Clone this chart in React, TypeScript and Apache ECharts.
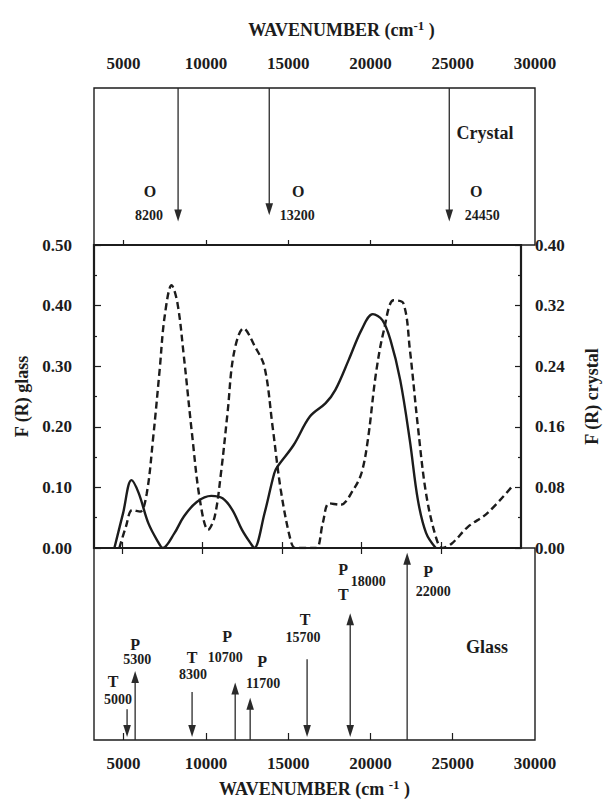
import React, { useEffect, useRef } from "react";
import * as echarts from "echarts";

const FONT = "'Liberation Serif', 'Times New Roman', Times, serif";
const INK = "#1c1c1c";

// Wavenumber axis (cm-1)
const xTickValues = [5000, 10000, 15000, 20000, 25000];
const xLabelValues = [5000, 10000, 15000, 20000, 25000, 30000];

// F(R) glass (solid, left axis)
const glassX = [4480, 5030, 5550, 6000, 6610, 7220, 7520, 8240, 8840, 9650, 10560, 11270, 11880, 12490, 13100, 13260, 13900, 14510, 14710, 15730, 16750, 17740, 18350, 19180, 19990, 20700, 21300, 21810, 22420, 23020, 23530, 24040, 24650];
const glassY = [0, 0.058, 0.112, 0.091, 0.041, 0.01, 0, 0.024, 0.052, 0.076, 0.086, 0.082, 0.063, 0.03, 0.005, 0, 0.057, 0.123, 0.134, 0.17, 0.217, 0.239, 0.261, 0.31, 0.36, 0.386, 0.376, 0.343, 0.277, 0.178, 0.079, 0.025, 0];

// F(R) crystal (dashed, right axis)
const crystalX = [4790, 5200, 5600, 6100, 6510, 6920, 7320, 7630, 8070, 8440, 8840, 9350, 9850, 10360, 10770, 11170, 11580, 11980, 12590, 13300, 13900, 14410, 14920, 15530, 15830, 16500, 17150, 17560, 17960, 18670, 19480, 19990, 20390, 20900, 21400, 22010, 22620, 23030, 23530, 24040, 24650, 25050, 25660, 26670, 27890, 29510];
const crystalY = [0, 0.028, 0.05, 0.048, 0.072, 0.147, 0.235, 0.305, 0.347, 0.323, 0.253, 0.151, 0.063, 0.024, 0.041, 0.099, 0.178, 0.257, 0.29, 0.266, 0.239, 0.16, 0.077, 0.011, 0, 0, 0, 0.033, 0.059, 0.057, 0.077, 0.099, 0.143, 0.231, 0.288, 0.327, 0.323, 0.261, 0.16, 0.072, 0.015, 0, 0.006, 0.028, 0.046, 0.083];

// Crystal bands (top panel): arrow positions as drawn, label text, symbol
const crystalBandPos = [8310, 13850, 24790];
const crystalBandText = ["8200", "13200", "24450"];
const crystalBandSym = ["O", "O", "O"];
const crystalBandTip = [0.15, 0.19, 0.15];

// Glass bands (bottom panel)
const glassBandPos = [5210, 5700, 9160, 11780, 12690, 16150, 18770, 22230];
const glassBandText = ["5000", "5300", "8300", "10700", "11700", "15700", "18000", "22000"];
const glassBandSym = [["T"], ["P"], ["T"], ["P"], ["P"], ["T"], ["P", "T"], ["P"]];
const glassBandDir = ["down", "up", "down", "up", "up", "down", "both", "up"];
const glassBandLen = [0.16, 0.36, 0.25, 0.3, 0.22, 0.42, 0.66, 0.975];

// label layout (px offset from arrow, y as panel fraction)
const crystalLabelLayout = [
  { sdx: -28, sfy: 0.338, ndx: -29, nfy: 0.191 },
  { sdx: 29, sfy: 0.338, ndx: 28, nfy: 0.191 },
  { sdx: 27, sfy: 0.338, ndx: 33, nfy: 0.191 },
];
const glassLabelLayout = [
  { s: [[-14, 0.306]], n: [-9, 0.212] },
  { s: [[0, 0.497]], n: [2, 0.42] },
  { s: [[0, 0.43]], n: [1, 0.342] },
  { s: [[-8, 0.539]], n: [-10, 0.43] },
  { s: [[12, 0.409]], n: [13, 0.295] },
  { s: [[-2, 0.627]], n: [-4, 0.534] },
  { s: [[-7, 0.886], [-7, 0.756]], n: [18, 0.824] },
  { s: [[21, 0.876]], n: [26, 0.772] },
];

const txt = (x: number, y: number, text: string, size: number) => ({
  type: "text",
  x,
  y,
  style: {
    text,
    fill: INK,
    font: `bold ${size}px ${FONT}`,
    align: "center",
    verticalAlign: "middle",
    textAlign: "center",
    textVerticalAlign: "middle",
  },
});

const HEAD_L = 12;
const HEAD_W = 3.8;
const head = (x: number, tipY: number, up: boolean) => ({
  type: "polygon",
  shape: {
    points: up
      ? [[x, tipY], [x - HEAD_W, tipY + HEAD_L], [x + HEAD_W, tipY + HEAD_L]]
      : [[x, tipY], [x - HEAD_W, tipY - HEAD_L], [x + HEAD_W, tipY - HEAD_L]],
  },
  style: { fill: "#2a2a2a" },
});
const shaft = (x: number, y1: number, y2: number) => ({
  type: "line",
  shape: { x1: x, y1, x2: x, y2 },
  style: { stroke: "#2a2a2a", lineWidth: 1.3 },
});

const xBase = {
  type: "value",
  min: 3200,
  max: 30000,
  splitLine: { show: false },
  axisLine: { show: false },
};

const tickLabelStyle = {
  color: INK,
  fontFamily: FONT,
  fontWeight: "bold",
  fontSize: 17,
};

const nameRich = (pre: string, post: string) => ({
  rich: {
    a: { fontFamily: FONT, fontWeight: "bold", fontSize: 18, color: INK, lineHeight: 22 },
    s: { fontFamily: FONT, fontWeight: "bold", fontSize: 13, color: INK, lineHeight: 12, verticalAlign: "top" },
  },
});

export default function App() {
  const ref = useRef<HTMLDivElement>(null);
  useEffect(() => {
    const chart = echarts.init(ref.current!, null, { renderer: "svg" });
    const option: any = {
      animation: false,
      backgroundColor: "#ffffff",
      grid: [
        { left: 94, top: 88, width: 441, height: 157, show: true, borderColor: INK, borderWidth: 1.4, backgroundColor: "transparent" },
        { left: 94, top: 245, width: 441, height: 303, show: true, borderColor: INK, borderWidth: 2.2, backgroundColor: "transparent" },
        { left: 94, top: 548, width: 441, height: 193, show: true, borderColor: INK, borderWidth: 1.4, backgroundColor: "transparent" },
      ],
      xAxis: [
        {
          ...xBase,
          gridIndex: 0,
          position: "top",
          axisTick: { show: true, inside: false, length: 5, customValues: xTickValues, lineStyle: { color: INK, width: 1.2 } },
          axisLabel: { ...tickLabelStyle, customValues: xLabelValues, margin: 16, formatter: (v: number) => String(v) },
          name: "{a|WAVENUMBER (cm}{s|-1}{a| )}",
          nameLocation: "middle",
          nameGap: 47,
          nameTextStyle: { ...nameRich("", ""), padding: [0, 0, 0, 54] },
        },
        {
          ...xBase,
          gridIndex: 1,
          position: "top",
          axisLabel: { show: false },
          axisTick: { show: true, inside: true, length: 6, customValues: xTickValues, lineStyle: { color: INK, width: 1.2 } },
        },
        {
          ...xBase,
          gridIndex: 1,
          position: "bottom",
          axisLabel: { show: false },
          axisTick: { show: true, inside: true, length: 6, customValues: xTickValues, lineStyle: { color: INK, width: 1.2 } },
        },
        {
          ...xBase,
          gridIndex: 2,
          position: "bottom",
          axisTick: { show: true, inside: true, length: 7, customValues: xTickValues, lineStyle: { color: INK, width: 1.2 } },
          axisLabel: { ...tickLabelStyle, customValues: xLabelValues, margin: 15, formatter: (v: number) => String(v) },
          name: "{a|WAVENUMBER (cm }{s|-1}{a| )}",
          nameLocation: "middle",
          nameGap: 38,
          nameTextStyle: nameRich("", ""),
        },
      ],
      yAxis: [
        { type: "value", gridIndex: 0, min: 0, max: 1, show: false },
        {
          type: "value",
          gridIndex: 1,
          position: "left",
          min: 0,
          max: 0.5,
          interval: 0.1,
          splitLine: { show: false },
          axisLine: { show: false },
          axisTick: { show: true, inside: true, length: 7, lineStyle: { color: INK, width: 1.2 } },
          minorTick: { show: true, splitNumber: 2, length: 3, lineStyle: { color: INK, width: 1.2 } },
          axisLabel: { ...tickLabelStyle, margin: 22, formatter: (v: number) => v.toFixed(2) },
          name: "F (R) glass",
          nameLocation: "middle",
          nameRotate: 90,
          nameGap: 56,
          nameTextStyle: { fontFamily: FONT, fontWeight: "bold", fontSize: 18, color: INK },
        },
        {
          type: "value",
          gridIndex: 1,
          position: "right",
          min: 0,
          max: 0.4,
          interval: 0.08,
          splitLine: { show: false },
          axisLine: { show: false },
          axisTick: { show: true, inside: true, length: 6, lineStyle: { color: INK, width: 1.2 } },
          minorTick: { show: true, splitNumber: 2, length: 3, lineStyle: { color: INK, width: 1.2 } },
          axisLabel: { ...tickLabelStyle, margin: 14, formatter: (v: number) => v.toFixed(2) },
          name: "F (R) crystal",
          nameLocation: "middle",
          nameRotate: 90,
          nameGap: 62,
          nameTextStyle: { fontFamily: FONT, fontWeight: "bold", fontSize: 18, color: INK },
        },
        { type: "value", gridIndex: 2, min: 0, max: 1, show: false },
      ],
      series: [
        {
          name: "glass",
          type: "line",
          xAxisIndex: 2,
          yAxisIndex: 1,
          data: glassX.map((x, i) => [x, glassY[i]]),
          showSymbol: false,
          smooth: 0.35,
          lineStyle: { color: INK, width: 2.4 },
          z: 3,
        },
        {
          name: "crystal",
          type: "line",
          xAxisIndex: 2,
          yAxisIndex: 2,
          data: crystalX.map((x, i) => [x, crystalY[i]]),
          showSymbol: false,
          smooth: 0.35,
          lineStyle: { color: INK, width: 2.4, type: [7, 4] },
          z: 3,
        },
        {
          name: "crystal bands",
          type: "custom",
          xAxisIndex: 0,
          yAxisIndex: 0,
          clip: false,
          silent: true,
          data: crystalBandPos.map((p, i) => [p, crystalBandTip[i]]),
          encode: { x: 0, y: 1 },
          renderItem: (params: any, api: any) => {
            const i = params.dataIndex;
            const x = api.value(0);
            const topPt = api.coord([x, 1]);
            const tipPt = api.coord([x, api.value(1)]);
            const lay = crystalLabelLayout[i];
            const sPt = api.coord([x, lay.sfy]);
            const nPt = api.coord([x, lay.nfy]);
            return {
              type: "group",
              children: [
                shaft(topPt[0], topPt[1], tipPt[1] - 4),
                head(tipPt[0], tipPt[1], false),
                txt(sPt[0] + lay.sdx, sPt[1], crystalBandSym[i], 16),
                txt(nPt[0] + lay.ndx, nPt[1], crystalBandText[i], 14),
              ],
            };
          },
        },
        {
          name: "glass bands",
          type: "custom",
          xAxisIndex: 3,
          yAxisIndex: 3,
          clip: false,
          silent: true,
          data: glassBandPos.map((p, i) => [p, glassBandLen[i]]),
          encode: { x: 0, y: 1 },
          renderItem: (params: any, api: any) => {
            const i = params.dataIndex;
            const x = api.value(0);
            const base = api.coord([x, 0]);
            const end = api.coord([x, api.value(1)]);
            const low = api.coord([x, 0.016]);
            const dir = glassBandDir[i];
            const children: any[] = [];
            if (dir === "up") {
              children.push(shaft(base[0], base[1], end[1] + 4));
              children.push(head(end[0], end[1], true));
            } else if (dir === "down") {
              children.push(shaft(base[0], end[1], low[1] - 4));
              children.push(head(low[0], low[1], false));
            } else {
              children.push(shaft(base[0], end[1] + 4, low[1] - 4));
              children.push(head(end[0], end[1], true));
              children.push(head(low[0], low[1], false));
            }
            const lay = glassLabelLayout[i];
            lay.s.forEach((s: number[], k: number) => {
              const p = api.coord([x, s[1]]);
              children.push(txt(p[0] + s[0], p[1], glassBandSym[i][k], 16));
            });
            const np = api.coord([x, lay.n[1]]);
            children.push(txt(np[0] + lay.n[0], np[1], glassBandText[i], 14));
            return { type: "group", children };
          },
        },
      ],
      graphic: [
        {
          type: "text",
          x: 485,
          y: 133,
          style: { text: "Crystal", fill: INK, font: `bold 18px ${FONT}`, textAlign: "center", textVerticalAlign: "middle", align: "center", verticalAlign: "middle" },
        },
        {
          type: "text",
          x: 487,
          y: 647,
          style: { text: "Glass", fill: INK, font: `bold 18px ${FONT}`, textAlign: "center", textVerticalAlign: "middle", align: "center", verticalAlign: "middle" },
        },
      ],
    };
    chart.setOption(option);
    return () => chart.dispose();
  }, []);
  return (
    <div
      ref={ref}
      style={{ position: "fixed", left: 0, top: 0, width: 609, height: 799, background: "#fff" }}
    />
  );
}
